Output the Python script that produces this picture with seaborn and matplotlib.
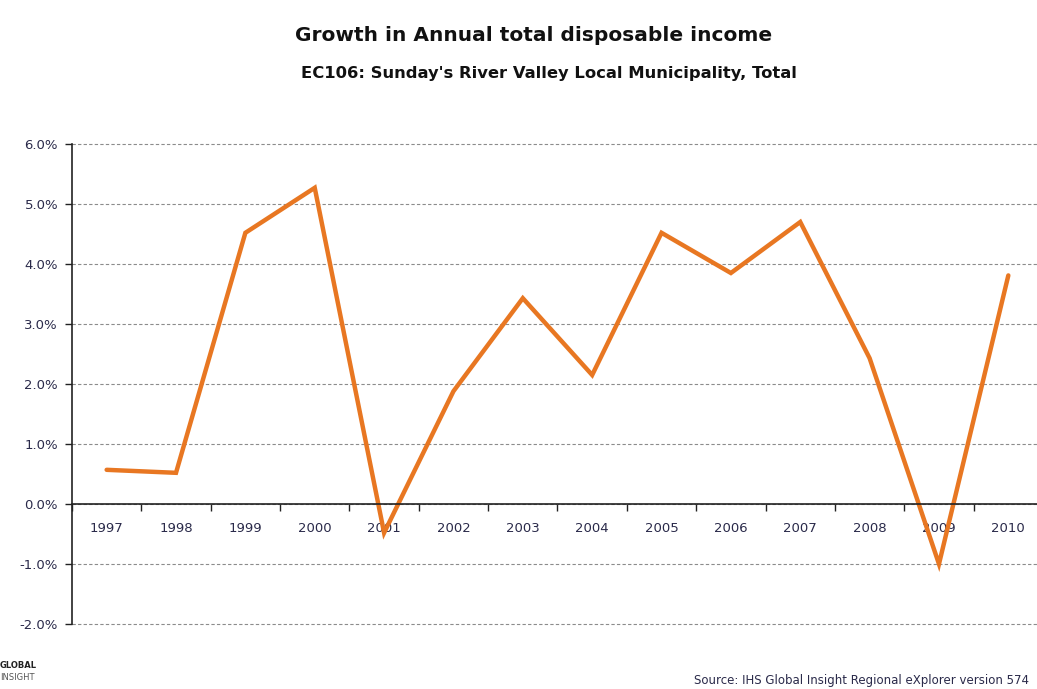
import matplotlib
matplotlib.use("Agg")
import matplotlib.pyplot as plt
import seaborn as sns
import pandas as pd
import numpy as np
from matplotlib.ticker import FixedLocator, FuncFormatter

years = ["1997", "1998", "1999", "2000", "2001", "2002", "2003",
         "2004", "2005", "2006", "2007", "2008", "2009", "2010"]
growth = [0.57, 0.52, 4.52, 5.27, -0.48, 1.88, 3.43,
          2.15, 4.52, 3.85, 4.70, 2.43, -1.00, 3.81]
y_ticks = [-2.0, -1.0, 0.0, 1.0, 2.0, 3.0, 4.0, 5.0, 6.0]

sns.set_theme(style="white")
plt.rcParams["font.family"] = ["DejaVu Sans"]

df = pd.DataFrame({"year": years, "growth": growth})
df["pos"] = np.arange(len(years))

fig = plt.figure(figsize=(10.37, 6.89), dpi=100)
ax = fig.add_axes([0.0694, 0.0943, 0.9364, 0.6967])

sns.lineplot(data=df, x="pos", y="growth", ax=ax, color="#E87722",
             linewidth=3.2, solid_joinstyle="miter", legend=False)

ax.set_xlim(-0.5, len(years) - 0.5)
ax.set_ylim(-2.0, 6.0)

# y axis: percent labels and dashed grid
ax.yaxis.set_major_locator(FixedLocator(y_ticks))
ax.yaxis.set_major_formatter(FuncFormatter(lambda v, _: f"{v:.1f}%"))
ax.grid(axis="y", linestyle=(0, (3, 2)), color="#8c8c8c", linewidth=0.8)
ax.grid(axis="x", visible=False)
for gl in ax.get_ygridlines():
    gl.set_clip_on(False)
ax.tick_params(axis="y", which="major", left=True, length=5, width=1,
               color="#222222", labelsize=9.5, labelcolor="#2a2a4a", pad=5)

# x axis drawn along the zero line, ticks between categories
ax.spines["bottom"].set_position(("data", 0))
ax.spines["bottom"].set_color("#222222")
ax.spines["bottom"].set_linewidth(1.2)
ax.spines["left"].set_color("#222222")
ax.spines["left"].set_linewidth(1.2)
ax.spines["top"].set_visible(False)
ax.spines["right"].set_visible(False)
ax.set_xticks(df["pos"])
ax.set_xticklabels(years)
ax.set_xticks(np.arange(-0.5, len(years), 1.0), minor=True)
ax.tick_params(axis="x", which="major", bottom=True, length=0,
               labelsize=9.5, labelcolor="#2a2a4a", pad=13)
ax.tick_params(axis="x", which="minor", bottom=True, length=5, width=1,
               color="#222222")
ax.set_xlabel("")
ax.set_ylabel("")

fig.text(0.515, 0.949, "Growth in Annual total disposable income",
         ha="center", va="center", fontsize=14.5, fontweight="bold",
         color="#111111")
fig.text(0.529, 0.893, "EC106: Sunday's River Valley Local Municipality, Total",
         ha="center", va="center", fontsize=11.8, fontweight="bold",
         color="#111111")
fig.text(0.992, 0.003, "Source: IHS Global Insight Regional eXplorer version 574",
         ha="right", va="bottom", fontsize=8.5, color="#2a2a4a")
fig.text(0.0, 0.034, "GLOBAL", ha="left", va="center", fontsize=6,
         fontweight="bold", color="#222222")
fig.text(0.0, 0.016, "INSIGHT", ha="left", va="center", fontsize=6,
         color="#555555")

fig.savefig("out.png", dpi=100)
